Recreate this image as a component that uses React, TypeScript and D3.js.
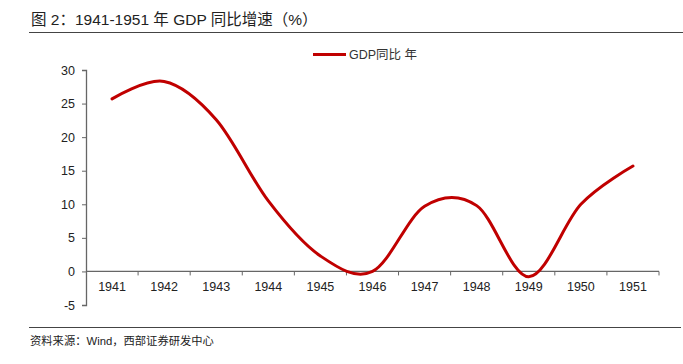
import React, { useEffect, useRef } from 'react';
import * as d3 from 'd3';

// chart values
const years: string[] = ['1941', '1942', '1943', '1944', '1945', '1946', '1947', '1948', '1949', '1950', '1951'];
const gdpYoY: number[] = [25.7, 28.3, 22.6, 10.5, 2.3, 0.0, 9.7, 9.8, -0.8, 10.0, 15.7];
const yTicks: number[] = [-5, 0, 5, 10, 15, 20, 25, 30];

const titleText = '图 2：1941-1951 年 GDP 同比增速（%）';
const legendText = 'GDP同比 年';
const sourceText = '资料来源：Wind，西部证券研发中心';

const App: React.FC = () => {
  const svgRef = useRef<SVGSVGElement>(null);

  useEffect(() => {
    if (!svgRef.current) return;

    const width = 683;
    const height = 364;
    const latin = '"Liberation Sans", Arial, sans-serif';
    const cjk = '"Liberation Sans", "Noto Sans CJK SC", sans-serif';

    const svg = d3.select(svgRef.current)
                  .attr('width', width)
                  .attr('height', height);

    svg.selectAll('*').remove();

    const x = d3.scaleBand<string>()
                .domain(years)
                .range([86, 659]);

    const y = d3.scaleLinear()
                .domain([-5, 30])
                .range([305, 70]);

    // title + rules
    svg.append('text')
       .attr('x', 31)
       .attr('y', 25)
       .attr('font-family', cjk)
       .attr('font-size', 15.5)
       .attr('fill', '#222')
       .text(titleText);

    svg.append('line')
       .attr('x1', 29).attr('x2', 683)
       .attr('y1', 32.5).attr('y2', 32.5)
       .attr('stroke', '#444').attr('stroke-width', 1);

    svg.append('line')
       .attr('x1', 29).attr('x2', 681)
       .attr('y1', 327.5).attr('y2', 327.5)
       .attr('stroke', '#444').attr('stroke-width', 1);

    svg.append('text')
       .attr('x', 30)
       .attr('y', 345)
       .attr('font-family', cjk)
       .attr('font-size', 11.3)
       .attr('fill', '#222')
       .text(sourceText);

    // legend
    svg.append('line')
       .attr('x1', 313).attr('x2', 346)
       .attr('y1', 54.5).attr('y2', 54.5)
       .attr('stroke', '#C00000').attr('stroke-width', 3);

    svg.append('text')
       .attr('x', 349)
       .attr('y', 59)
       .attr('font-family', cjk)
       .attr('font-size', 12.5)
       .attr('fill', '#333')
       .text(legendText);

    // y axis
    const yAxis = svg.append('g')
       .attr('transform', `translate(${x.range()[0]},0)`)
       .call(d3.axisLeft(y).tickValues(yTicks).tickSize(4).tickPadding(7).tickFormat(d => String(d)));

    yAxis.select('.domain').attr('stroke', '#666').attr('stroke-width', 1.3);
    yAxis.selectAll('.tick line').attr('stroke', '#666');
    yAxis.selectAll('.tick text')
         .attr('fill', '#222')
         .attr('font-family', latin)
         .attr('font-size', 12.5);

    // x axis on the zero line, ticks between categories
    const xAxisG = svg.append('g')
       .attr('transform', `translate(0,${y(0)})`);

    xAxisG.append('line')
          .attr('x1', x.range()[0]).attr('x2', x.range()[1])
          .attr('stroke', '#666').attr('stroke-width', 1.3);

    const bounds = years.map(d => x(d)!).concat([x.range()[1]]).slice(1);
    xAxisG.selectAll('line.tk')
          .data(bounds)
          .join('line')
            .attr('class', 'tk')
            .attr('x1', d => d).attr('x2', d => d)
            .attr('y1', 0).attr('y2', 4)
            .attr('stroke', '#666');

    xAxisG.selectAll('text')
          .data(years)
          .join('text')
            .attr('x', d => x(d)! + x.bandwidth() / 2)
            .attr('y', 20)
            .attr('text-anchor', 'middle')
            .attr('font-family', latin)
            .attr('font-size', 12.5)
            .attr('fill', '#222')
            .text(d => d);

    // smoothed line
    const line = d3.line<number>()
                   .x((_, i) => x(years[i])! + x.bandwidth() / 2)
                   .y(d => y(d))
                   .curve(d3.curveCardinal.tension(0));

    svg.append('path')
       .datum(gdpYoY)
       .attr('fill', 'none')
       .attr('stroke', '#C00000')
       .attr('stroke-width', 3)
       .attr('stroke-linecap', 'round')
       .attr('d', line);
  }, []);

  return (
    <svg ref={svgRef} style={{ position: 'absolute', left: 0, top: 0 }}></svg>
  );
};

export default App;
